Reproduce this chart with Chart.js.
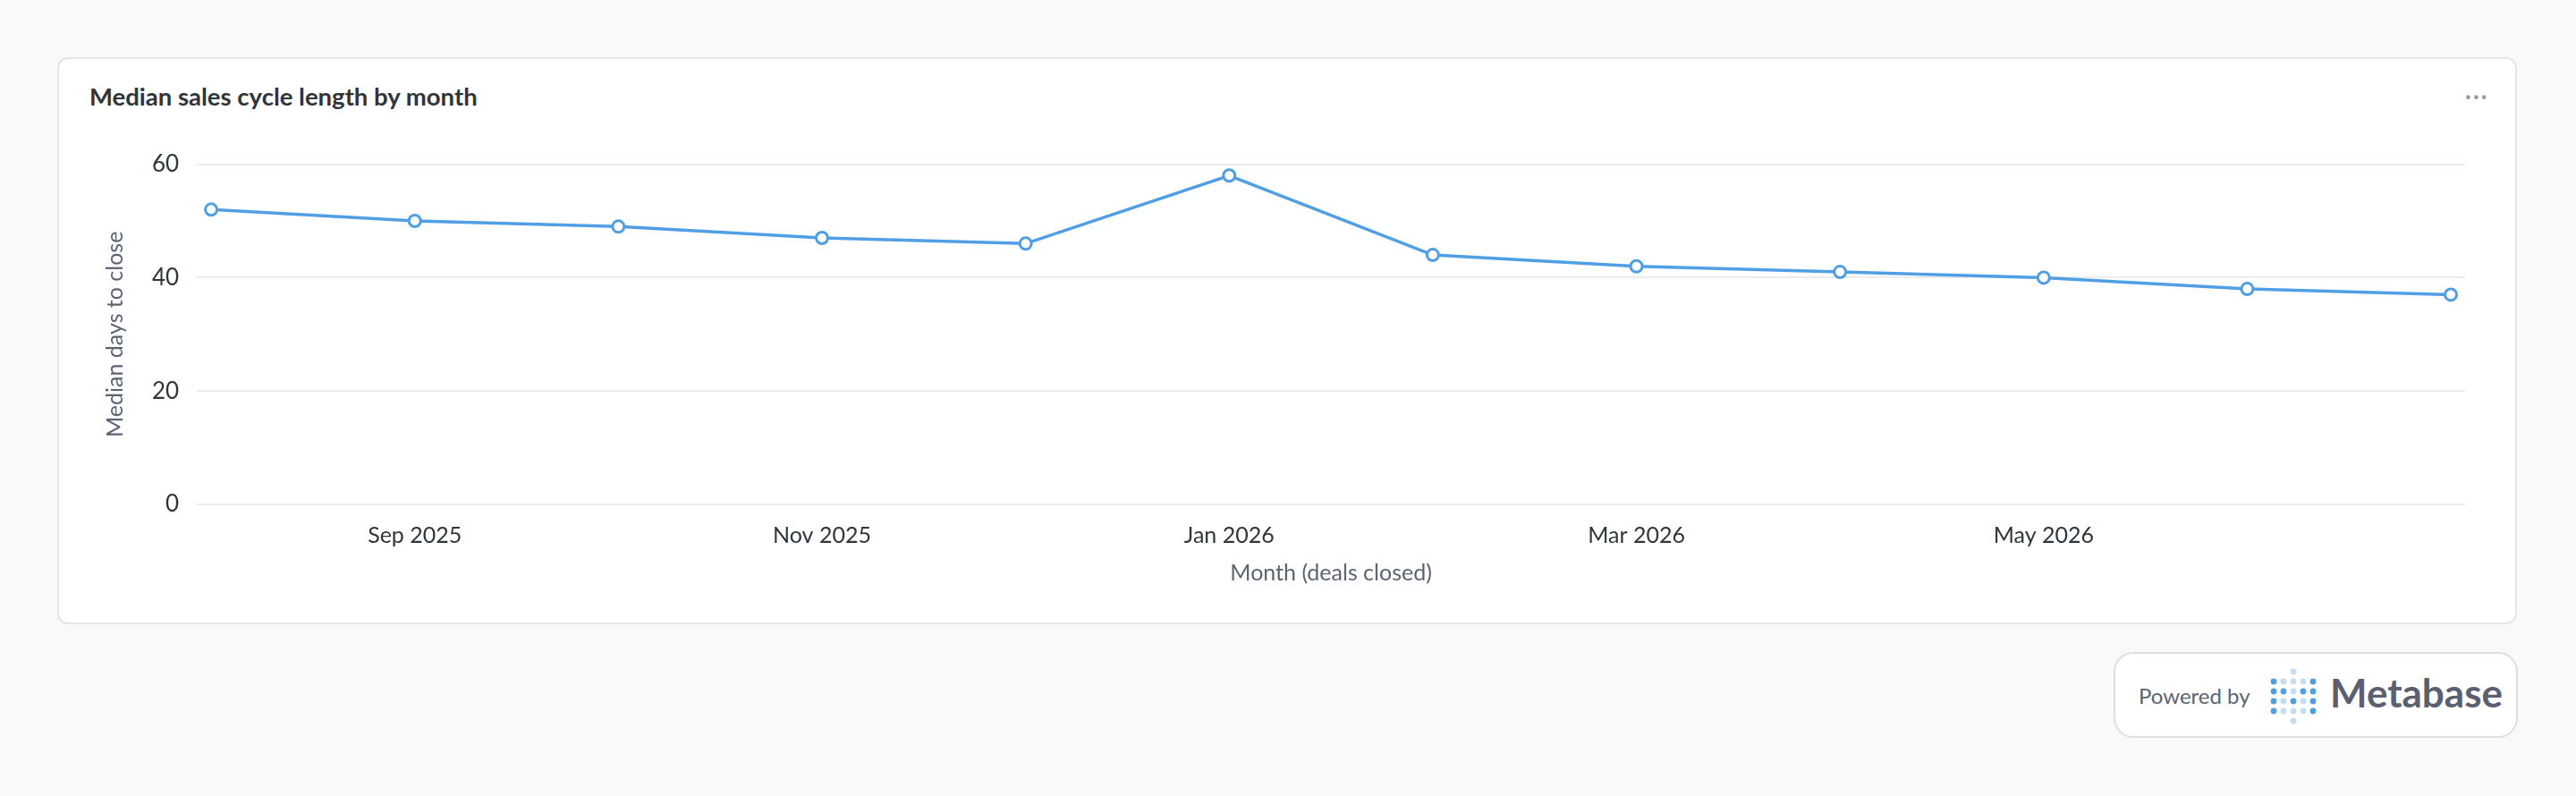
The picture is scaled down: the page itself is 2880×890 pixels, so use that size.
<!DOCTYPE html>
<html>
<head>
<meta charset="utf-8">
<script src="https://cdn.jsdelivr.net/npm/chart.js@4"></script>
<style>
  html, body { margin: 0; padding: 0; background: #f9f9f9; font-family: Lato, "Noto Sans", sans-serif; }
  body { width: 2880px; height: 890px; position: relative; overflow: hidden; }
  .card { position: absolute; left: 64px; top: 64px; width: 2750px; height: 634px; background: #fff;
          border: 2px solid #e3e5e7; border-radius: 12px; box-sizing: border-box; }
  .title { position: absolute; left: 34px; top: 25px; font-size: 27.5px; font-weight: 700; color: #2e353b; }
  .dots { position: absolute; right: 30px; top: 22px; font-size: 30px; color: #949aab; letter-spacing: 1px; }
  .wrap { position: absolute; left: 44px; top: 82px; width: 2700px; height: 512px; }
  .badge { position: absolute; left: 2363px; top: 729px; width: 452px; height: 96px; background: #fff;
           border: 2px solid #dcdfe0; border-radius: 22px; box-sizing: border-box; }
  .pb { position: absolute; left: 26px; top: 32px; font-size: 24px; color: #5a6472; }
  .mb { position: absolute; left: 240px; top: 17px; font-size: 44px; font-weight: 700; color: #5a6070; }
  .logo { position: absolute; left: 172px; top: 16px; }
</style>
</head>
<body>
<div class="card">
  <div class="title">Median sales cycle length by month</div>
  <div class="dots">···</div>
  <div class="wrap"><canvas id="chart"></canvas></div>
</div>
<div class="badge">
  <div class="pb">Powered by</div>
  <svg class="logo" width="54" height="64" id="logo"></svg>
  <div class="mb">Metabase</div>
</div>
<script>
'use strict';

const months = ['Aug 2025', 'Sep 2025', 'Oct 2025', 'Nov 2025', 'Dec 2025', 'Jan 2026',
                'Feb 2026', 'Mar 2026', 'Apr 2026', 'May 2026', 'Jun 2026', 'Jul 2026'];
const medianDays = [52, 50, 49, 47, 46, 58, 44, 42, 41, 40, 38, 37];
const yTicks = [0, 20, 40, 60];
const xLabelIdx = [1, 3, 5, 7, 9];

// Metabase logo dots
(function () {
  const svg = document.getElementById('logo');
  const dark = '#509ee3', light = '#c5dcf2';
  const grid = [
    [1,0,0,0,1], [1,1,0,1,1], [1,0,1,0,1], [1,0,0,0,1]
  ];
  let html = `<circle cx="27" cy="4" r="3.4" fill="${light}"/><circle cx="27" cy="59" r="3.4" fill="${light}"/>`;
  for (let r = 0; r < 4; r++) for (let c = 0; c < 5; c++) {
    html += `<circle cx="${5 + c * 11}" cy="${15 + r * 11}" r="3.4" fill="${grid[r][c] ? dark : light}"/>`;
  }
  svg.innerHTML = html;
})();

Chart.defaults.font.family = 'Lato, "Noto Sans", sans-serif';
Chart.defaults.color = '#4c5773';

new Chart(document.getElementById('chart'), {
  type: 'line',
  data: {
    datasets: [{
      data: medianDays.map((v, i) => ({ x: i, y: v })),
      borderColor: '#509ee3',
      borderWidth: 3.5,
      pointRadius: 6.5,
      pointBorderWidth: 3,
      pointBackgroundColor: '#fff',
      pointBorderColor: '#509ee3',
      tension: 0,
    }],
  },
  options: {
    responsive: true,
    maintainAspectRatio: false,
    animation: false,
    layout: { padding: { right: 54, top: 0 } },
    plugins: { legend: { display: false }, tooltip: { enabled: false } },
    scales: {
      x: {
        type: 'linear',
        min: -0.07,
        max: 11.07,
        afterBuildTicks: axis => { axis.ticks = xLabelIdx.map(v => ({ value: v })); },
        ticks: { callback: v => months[v], font: { size: 25 }, color: '#2e353b', padding: 12, maxRotation: 0 },
        grid: { display: false },
        border: { display: false },
        title: { display: true, text: 'Month (deals closed)', font: { size: 25 }, color: '#5a6472', padding: { top: 0 } },
      },
      y: {
        min: 0,
        max: 60,
        afterBuildTicks: axis => { axis.ticks = yTicks.map(v => ({ value: v })); },
        ticks: { font: { size: 26 }, color: '#2e353b', padding: 20 },
        grid: { color: '#ececec', lineWidth: 2, drawTicks: false },
        border: { display: false },
        title: { display: true, text: 'Median days to close', font: { size: 25 }, color: '#5a6472', padding: { bottom: 6 } },
      },
    },
  },
});
</script>
</body>
</html>
